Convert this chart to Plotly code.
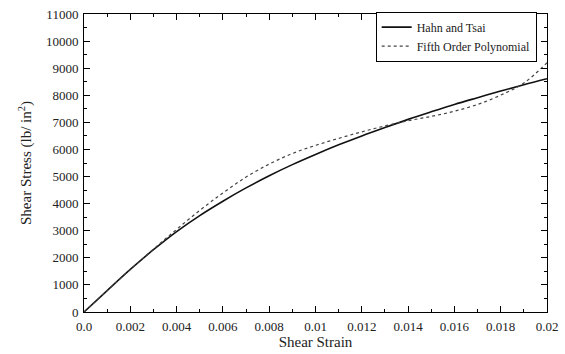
import plotly.graph_objects as go

strain = [0.000, 0.001, 0.002, 0.003, 0.004, 0.005, 0.006, 0.007, 0.008, 0.009, 0.010,
          0.011, 0.012, 0.013, 0.014, 0.015, 0.016, 0.017, 0.018, 0.019, 0.020]
hahn_tsai = [0, 790, 1570, 2300, 2970, 3560, 4090, 4580, 5030, 5440, 5815,
             6170, 6500, 6810, 7110, 7390, 7660, 7910, 8155, 8390, 8610]
fifth_order = [0, 790, 1570, 2320, 3050, 3750, 4395, 4980, 5460, 5850, 6150,
               6410, 6650, 6870, 7060, 7220, 7410, 7660, 8005, 8450, 9200]

x_ticks = [0.0, 0.002, 0.004, 0.006, 0.008, 0.01, 0.012, 0.014, 0.016, 0.018, 0.02]
x_ticktext = ["0.0", "0.002", "0.004", "0.006", "0.008", "0.01", "0.012", "0.014", "0.016", "0.018", "0.02"]
y_ticks = [0, 1000, 2000, 3000, 4000, 5000, 6000, 7000, 8000, 9000, 10000, 11000]
y_ticktext = ["0", "1000", "2000", "3000", "4000", "5000", "6000", "7000", "8000", "9000", "10000", "11000"]

FONT = "Liberation Serif, Times New Roman, serif"

fig = go.Figure()
fig.add_trace(go.Scatter(x=strain, y=hahn_tsai, mode="lines", name="Hahn and Tsai",
                         line=dict(color="#111111", width=1.6, shape="spline")))
fig.add_trace(go.Scatter(x=strain, y=fifth_order, mode="lines", name="Fifth Order Polynomial",
                         line=dict(color="#444444", width=1.2, dash="dot", shape="spline")))

axis_common = dict(showline=True, linecolor="black", linewidth=1, mirror="ticks",
                   ticks="inside", ticklen=6, tickcolor="black", showgrid=False, zeroline=False,
                   automargin=False,
                   tickfont=dict(family=FONT, size=13, color="#222222"))

fig.update_xaxes(range=[0, 0.02], tickvals=x_ticks, ticktext=x_ticktext, ticklabelstandoff=2,
                 minor=dict(ticks="inside", ticklen=3, dtick=0.001, tick0=0, tickcolor="black", showgrid=False),
                 title=dict(text="Shear Strain", font=dict(family=FONT, size=15, color="#222222"), standoff=3),
                 **axis_common)
fig.update_yaxes(range=[0, 11000], tickvals=y_ticks, ticktext=y_ticktext, ticklabelstandoff=2,
                 minor=dict(ticks="inside", ticklen=3, dtick=500, tick0=0, tickcolor="black", showgrid=False),
                 title=dict(text="Shear Stress (lb/ in<sup>2</sup>)", font=dict(family=FONT, size=15, color="#222222"), standoff=10),
                 **axis_common)

fig.update_layout(
    width=565, height=354,
    margin=dict(l=84, r=18, t=14, b=42),
    paper_bgcolor="white", plot_bgcolor="white",
    showlegend=True,
    legend=dict(x=0.63, y=1.008, xanchor="left", yanchor="top",
                bgcolor="white", bordercolor="black", borderwidth=1,
                font=dict(family=FONT, size=12, color="#222222"),
                tracegroupgap=0, itemwidth=30),
)

fig.write_html("out.html")
